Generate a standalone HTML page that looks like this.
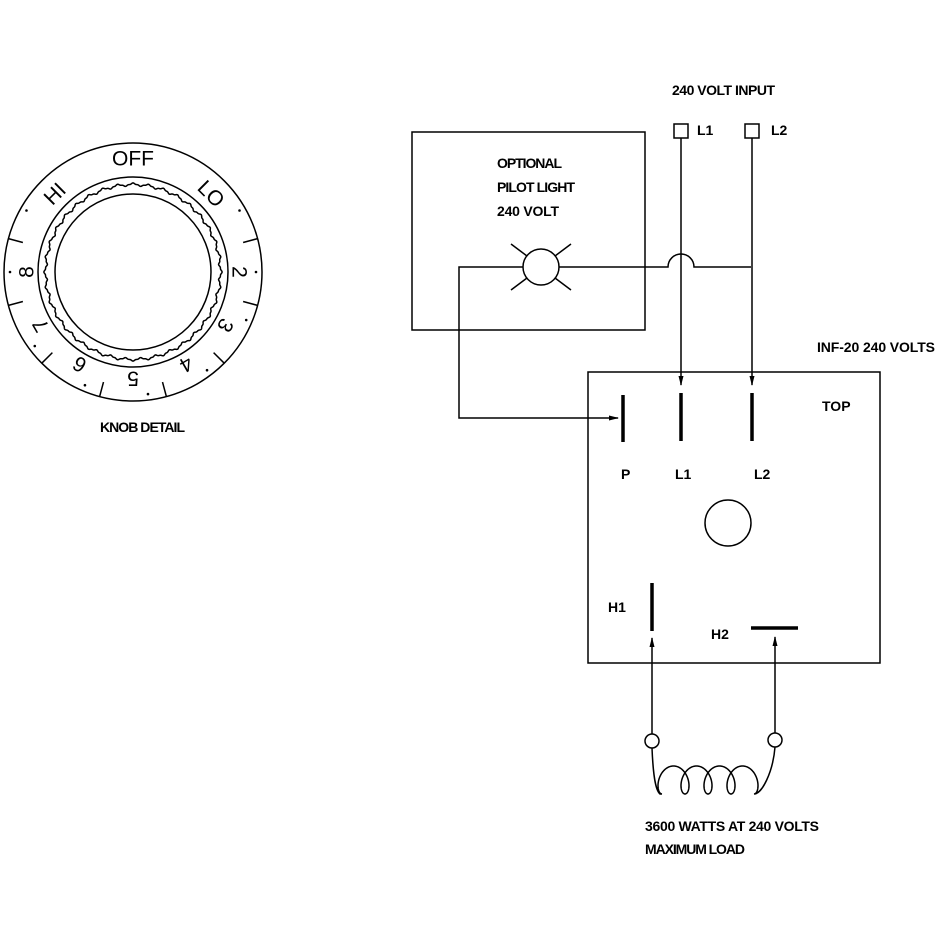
<!DOCTYPE html>
<html><head><meta charset="utf-8"><style>
html,body{margin:0;padding:0;background:#fff}
svg{display:block}
.t{font-family:"Liberation Sans Narrow","Liberation Sans",sans-serif;font-weight:bold;font-size:14px;fill:#000}
.k{font-family:"Liberation Sans",sans-serif;font-size:21px;fill:#000}
</style></head><body>
<svg id="s" width="952" height="952" viewBox="0 0 952 952" xmlns="http://www.w3.org/2000/svg">
<defs>
<marker id="a" markerWidth="10" markerHeight="8" refX="9" refY="4" orient="auto" markerUnits="userSpaceOnUse">
<path d="M0,1.5 L10,4 L0,6.5 Z" fill="#000"/></marker>
</defs>
<g fill="none" stroke="#000" stroke-width="1.5">
<circle cx="133" cy="272" r="129"/>
<circle cx="133" cy="272" r="95"/>
<circle cx="133" cy="272" r="78"/>
<path id="wave" d=""/>
<g id="ticks"></g>
<rect x="412" y="132" width="233" height="198"/>
<circle cx="541" cy="267" r="18"/>
<line x1="511" y1="244" x2="527" y2="256"/>
<line x1="571" y1="244" x2="555" y2="256"/>
<line x1="511" y1="290" x2="527" y2="278"/>
<line x1="571" y1="290" x2="555" y2="278"/>
<path d="M523,267 H459 V418 H618" marker-end="url(#a)"/>
<path d="M559,267 H668 A13,13 0 0 1 694,267 H751"/>
<rect x="674" y="124" width="14" height="14"/>
<rect x="745" y="124" width="14" height="14"/>
<line x1="681" y1="138" x2="681" y2="385" marker-end="url(#a)"/>
<line x1="752" y1="138" x2="752" y2="385" marker-end="url(#a)"/>
<rect x="588" y="372" width="292" height="291"/>
<circle cx="728" cy="523" r="23"/>
<line x1="652" y1="734" x2="652" y2="638" marker-end="url(#a)"/>
<line x1="775" y1="733" x2="775" y2="637" marker-end="url(#a)"/>
<circle cx="652" cy="741" r="7"/>
<circle cx="775" cy="740" r="7"/>
<path id="coil" d=""/>
</g>
<g stroke="#000" stroke-width="3.5" fill="none">
<line x1="623" y1="395" x2="623" y2="442"/>
<line x1="681" y1="393" x2="681" y2="441"/>
<line x1="752" y1="393" x2="752" y2="441"/>
<line x1="652" y1="583" x2="652" y2="631"/>
<line x1="751" y1="628" x2="798" y2="628"/>
</g>
<g id="klabels"></g>
<text class="t" x="672" y="95" textLength="103">240 VOLT INPUT</text>
<text class="t" x="697" y="135">L1</text>
<text class="t" x="771" y="135">L2</text>
<text class="t" x="497" y="168" textLength="65">OPTIONAL</text>
<text class="t" x="497" y="192" textLength="78">PILOT LIGHT</text>
<text class="t" x="497" y="216" textLength="62">240 VOLT</text>
<text class="t" x="817" y="352" textLength="118">INF-20 240 VOLTS</text>
<text class="t" x="822" y="411">TOP</text>
<text class="t" x="621" y="479">P</text>
<text class="t" x="675" y="479">L1</text>
<text class="t" x="754" y="479">L2</text>
<text class="t" x="608" y="612">H1</text>
<text class="t" x="711" y="639">H2</text>
<text class="t" x="645" y="831" textLength="174">3600 WATTS AT 240 VOLTS</text>
<text class="t" x="645" y="854" textLength="100">MAXIMUM LOAD</text>
<text class="t" x="100" y="432" textLength="85">KNOB DETAIL</text>
</svg>
<script>
var NS="http://www.w3.org/2000/svg",cx=133,cy=272;
var d="";for(var i=0;i<=1440;i++){var t=i/1440*2*Math.PI,c=Math.cos(36*t),r=87.5+1.6*Math.pow(Math.abs(c),3)*Math.sign(c);d+=(i?"L":"M")+(cx+r*Math.sin(t)).toFixed(2)+","+(cy-r*Math.cos(t)).toFixed(2);}
document.getElementById("wave").setAttribute("d",d+"Z");
var tg=document.getElementById("ticks");
[75,105,135,165,195,225,255,285].forEach(function(a){var r=a*Math.PI/180,l=document.createElementNS(NS,"line");
l.setAttribute("x1",cx+114*Math.sin(r));l.setAttribute("y1",cy-114*Math.cos(r));l.setAttribute("x2",cx+129*Math.sin(r));l.setAttribute("y2",cy-129*Math.cos(r));tg.appendChild(l);});
var kl=document.getElementById("klabels");
[["OFF",0,113],["LO",45,110],["2",90,106],["3",120,106],["4",150,106],["5",180,106],["6",210,106],["7",240,106],["8",270,106],["HI",315,110]].forEach(function(o){
var r=o[1]*Math.PI/180,x=cx+o[2]*Math.sin(r),y=cy-o[2]*Math.cos(r),t=document.createElementNS(NS,"text");
t.setAttribute("class","k");t.setAttribute("x",x);t.setAttribute("y",y);t.setAttribute("text-anchor","middle");t.setAttribute("dominant-baseline","central");
t.setAttribute("transform","rotate("+o[1]+" "+x+" "+y+")");t.textContent=o[0];kl.appendChild(t);});
[60,90,120,150,180,210,240,270,300].forEach(function(a){var r=(a+(a>=120&&a<=240?-7:0))*Math.PI/180,c=document.createElementNS(NS,"circle");
c.setAttribute("cx",cx+123*Math.sin(r));c.setAttribute("cy",cy-123*Math.cos(r));c.setAttribute("r",1.3);kl.appendChild(c);});
// coil: 4 upward loops
var x0=662,yc=780,per=23,rr=per/(2*Math.PI),ax=9,ay=14;
var p="M652,748 C653,772 655,790 "+(x0-2)+","+(yc+ay)+" ";
for(var i=0;i<=400;i++){var t=i/400*8*Math.PI;p+="L"+(x0+rr*t-ax*Math.sin(t)).toFixed(2)+","+(yc+ay*Math.cos(t)).toFixed(2)+" ";}
var xe=x0+4*per;
p+="C"+(xe+8)+",794 773,772 775,747";
document.getElementById("coil").setAttribute("d",p);
</script>
</body></html>
